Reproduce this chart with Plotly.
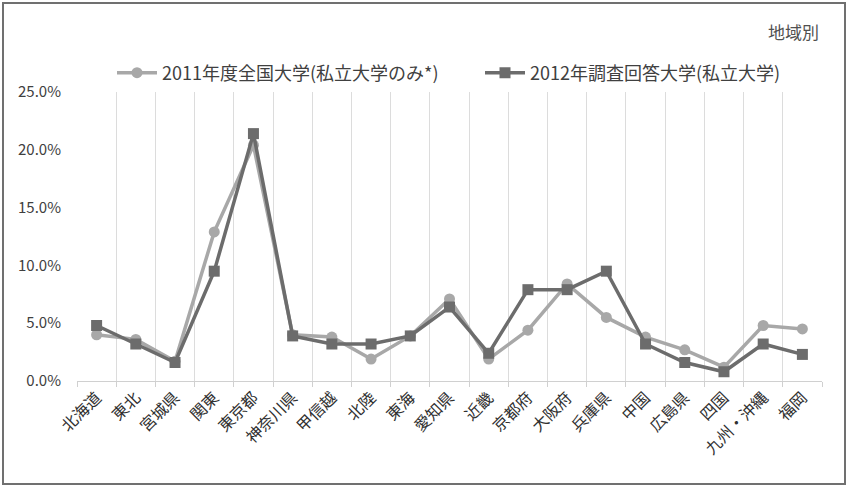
import plotly.graph_objects as go

categories = ["北海道", "東北", "宮城県", "関東", "東京都", "神奈川県", "甲信越", "北陸", "東海",
              "愛知県", "近畿", "京都府", "大阪府", "兵庫県", "中国", "広島県", "四国", "九州・沖縄", "福岡"]
series_2011_name = "2011年度全国大学(私立大学のみ*)"
series_2011 = [4.0, 3.6, 1.7, 12.9, 20.4, 4.0, 3.8, 1.9, 3.9,
               7.1, 1.9, 4.4, 8.4, 5.5, 3.8, 2.7, 1.2, 4.8, 4.5]
series_2012_name = "2012年調査回答大学(私立大学)"
series_2012 = [4.8, 3.2, 1.6, 9.5, 21.4, 3.9, 3.2, 3.2, 3.9,
               6.4, 2.4, 7.9, 7.9, 9.5, 3.2, 1.6, 0.8, 3.2, 2.3]
y_ticks = [0, 5, 10, 15, 20, 25]
y_tick_labels = [f"{v:.1f}%" for v in y_ticks]

FONT = "Noto Sans CJK JP"
LIGHT = "#a8a8a8"
DARK = "#6c6c6c"

fig = go.Figure()
fig.add_trace(go.Scatter(
    x=categories, y=series_2011, name=series_2011_name, mode="lines+markers",
    line=dict(color=LIGHT, width=3.5),
    marker=dict(symbol="circle", size=11, color=LIGHT),
    legend="legend",
))
fig.add_trace(go.Scatter(
    x=categories, y=series_2012, name=series_2012_name, mode="lines+markers",
    line=dict(color=DARK, width=3.5),
    marker=dict(symbol="square", size=11, color=DARK),
    legend="legend2",
))

L, R, T, B = 77, 822, 92, 381
W, H = 849, 493
pw, ph = R - L, B - T

def px(x):
    return (x - L) / pw

def py(y):
    return (B - y) / ph

legend_common = dict(orientation="h", yanchor="middle", xanchor="left",
                     font=dict(size=18, color="#404040", family=FONT),
                     bgcolor="rgba(0,0,0,0)", itemwidth=40)

fig.update_layout(
    width=W, height=H,
    margin=dict(l=L, r=W - R, t=T, b=H - B, pad=0),
    paper_bgcolor="white", plot_bgcolor="white",
    font=dict(family=FONT, color="#404040"),
    showlegend=True,
    legend=dict(x=px(112), y=py(73), **legend_common),
    legend2=dict(x=px(480), y=py(73), **legend_common),
    xaxis=dict(
        type="category", range=[-0.5, len(categories) - 0.5],
        tickson="boundaries", showgrid=True, gridcolor="#dcdcdc", gridwidth=1,
        showline=True, linecolor="#d0d0d0", linewidth=1,
        ticks="outside", ticklen=5, tickcolor="#d0d0d0",
        tickangle=-45, tickfont=dict(size=16, color="#303030", family=FONT),
        fixedrange=True,
    ),
    yaxis=dict(
        range=[0, 25], tickvals=y_ticks, ticktext=y_tick_labels,
        showgrid=False, zeroline=False, showline=False, ticks="",
        tickfont=dict(size=15, color="#404040", family=FONT),
        ticklabelstandoff=15,
    ),
    shapes=[dict(type="rect", xref="paper", yref="paper",
                 x0=px(3), x1=px(845), y0=py(484), y1=py(3),
                 line=dict(color="#707070", width=2), fillcolor="rgba(0,0,0,0)", layer="below")],
    annotations=[dict(text="地域別", xref="paper", yref="paper", x=px(821), y=py(31),
                      xanchor="right", yanchor="middle", showarrow=False,
                      font=dict(size=17, color="#505050", family=FONT))],
)

fig.write_html("out.html")
